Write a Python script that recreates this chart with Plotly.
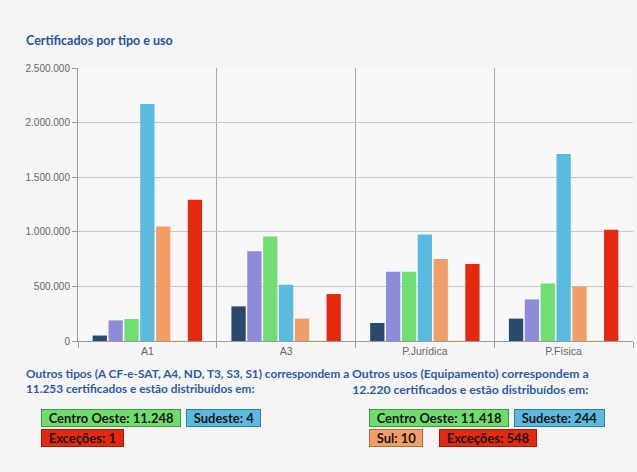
import plotly.graph_objects as go

# Categories (certificate type / usage) and per-region counts
categories = ["A1", "A3", "P.Jurídica", "P.Física"]
series_names = ["Norte", "Nordeste", "Centro Oeste", "Sudeste", "Sul", "Exterior", "Exceções"]
norte = [50000, 317000, 165000, 205000]
nordeste = [189000, 823000, 634000, 381000]
centro_oeste = [201000, 957000, 634000, 527000]
sudeste = [2170000, 515000, 975000, 1713000]
sul = [1048000, 205000, 750000, 500000]
exterior = [4000, 4000, 4000, 4000]
excecoes = [1293000, 430000, 704000, 1018000]
series_values = [norte, nordeste, centro_oeste, sudeste, sul, exterior, excecoes]
series_colors = ["#2b4a6b", "#8e8bdb", "#70de72", "#5bbae0", "#f09e66", "#f6ec9a", "#e5290f"]

y_ticks = [0, 500000, 1000000, 1500000, 2000000, 2500000]

# Summary badges: (text, fill, border)
badges_tipos = [
    ("Centro Oeste: 11.248", "#70dc6e", "#3f9a3f"),
    ("Sudeste: 4", "#5bbae0", "#2d7fa6"),
    ("Exceções: 1", "#e5290f", "#a51a08"),
]
badges_usos = [
    ("Centro Oeste: 11.418", "#70dc6e", "#3f9a3f"),
    ("Sudeste: 244", "#5bbae0", "#2d7fa6"),
    ("Sul: 10", "#f09e66", "#b86a34"),
    ("Exceções: 548", "#e5290f", "#a51a08"),
]

W, H = 637, 472
L, R, T, B = 78, 4, 68, 131
PW, PH = W - L - R, H - T - B


def px(x):
    return (x - L) / PW


def py(y):
    return (H - B - y) / PH


fig = go.Figure()
for name, vals, col in zip(series_names, series_values, series_colors):
    fig.add_trace(go.Bar(x=categories, y=vals, name=name, marker_color=col,
                         marker_line_width=0))

annotations = []
text_blue = "#2d5aa9"
annotations.append(dict(text="<b>Certificados por tipo e uso</b>", xref="paper", yref="paper",
                        x=px(24), y=py(41), xanchor="left", yanchor="middle", showarrow=False,
                        font=dict(family="Lato", size=12.5, color="#2452a3")))
annotations.append(dict(
    text="<b>Outros tipos (A CF-e-SAT, A4, ND, T3, S3, S1) correspondem a</b><br>"
         "<b>11.253 certificados e estão distribuídos em:</b>",
    xref="paper", yref="paper", x=px(24), y=py(381), xanchor="left", yanchor="middle",
    align="left", showarrow=False, font=dict(family="Lato", size=11.8, color=text_blue)))
annotations.append(dict(
    text="<b>Outros usos (Equipamento) correspondem a</b><br>"
         "<b>12.220 certificados e estão distribuídos em:</b>",
    xref="paper", yref="paper", x=px(470), y=py(381), xanchor="center", yanchor="middle",
    align="center", showarrow=False, font=dict(family="Lato", size=12.2, color=text_blue)))


def badge(text, fill, border, x, y):
    return dict(text="&nbsp;&nbsp;<b>" + text + "</b>&nbsp;&nbsp;", xref="paper", yref="paper",
                x=px(x), y=py(y), xanchor="left", yanchor="middle", showarrow=False,
                bgcolor=fill, bordercolor=border, borderwidth=1, borderpad=0,
                font=dict(family="Lato", size=13, color="#151515"))


left_pos = [(41, 418), (186, 418), (41, 438)]
right_pos = [(369, 418), (514, 418), (369, 438), (439, 438)]
for (t, f, b), (x, y) in zip(badges_tipos, left_pos):
    annotations.append(badge(t, f, b, x, y))
for (t, f, b), (x, y) in zip(badges_usos, right_pos):
    annotations.append(badge(t, f, b, x, y))

fig.update_layout(
    width=W, height=H,
    margin=dict(l=L, r=R, t=T, b=B, pad=0),
    paper_bgcolor="#f5f5f5", plot_bgcolor="#f7f7f7",
    barmode="group", bargap=0.2, bargroupgap=0.1,
    showlegend=False,
    separators=",.",
    annotations=annotations,
    font=dict(family="Liberation Sans", color="#666666", size=10),
)
fig.update_yaxes(range=[0, 2500000], tickvals=y_ticks, tickformat=",d",
                 showgrid=True, gridcolor="#c8c8c8", gridwidth=1,
                 showline=True, linecolor="#9a9a9a", linewidth=1,
                 ticks="outside", ticklen=5, tickcolor="#9a9a9a",
                 zeroline=False, tickfont=dict(size=10, color="#666666"))
fig.update_xaxes(tickson="boundaries", showgrid=True, gridcolor="#a8a8a8", gridwidth=1,
                 showline=True, linecolor="#9a9a9a", linewidth=1,
                 ticks="outside", ticklen=6, tickcolor="#9a9a9a",
                 tickfont=dict(size=10.5, color="#666666"))

fig.write_html("out.html")
